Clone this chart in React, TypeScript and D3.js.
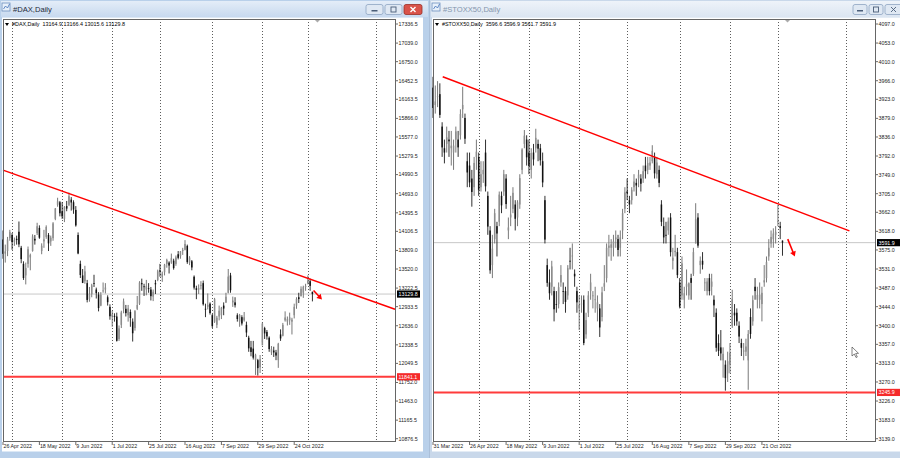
import { useEffect, useRef } from "react";
import * as d3 from "d3";

// ---- DAX daily (broker feed, no bar on 3 Oct)
const daxDates = [
  "2022-04-26","2022-04-27","2022-04-28","2022-04-29",
  "2022-05-02","2022-05-03","2022-05-04","2022-05-05","2022-05-06",
  "2022-05-09","2022-05-10","2022-05-11","2022-05-12","2022-05-13",
  "2022-05-16","2022-05-17","2022-05-18","2022-05-19","2022-05-20",
  "2022-05-23","2022-05-24","2022-05-25","2022-05-26","2022-05-27",
  "2022-05-30","2022-05-31","2022-06-01","2022-06-02","2022-06-03",
  "2022-06-06","2022-06-07","2022-06-08","2022-06-09","2022-06-10",
  "2022-06-13","2022-06-14","2022-06-15","2022-06-16","2022-06-17",
  "2022-06-20","2022-06-21","2022-06-22","2022-06-23","2022-06-24",
  "2022-06-27","2022-06-28","2022-06-29","2022-06-30","2022-07-01",
  "2022-07-04","2022-07-05","2022-07-06","2022-07-07","2022-07-08",
  "2022-07-11","2022-07-12","2022-07-13","2022-07-14","2022-07-15",
  "2022-07-18","2022-07-19","2022-07-20","2022-07-21","2022-07-22",
  "2022-07-25","2022-07-26","2022-07-27","2022-07-28","2022-07-29",
  "2022-08-01","2022-08-02","2022-08-03","2022-08-04","2022-08-05",
  "2022-08-08","2022-08-09","2022-08-10","2022-08-11","2022-08-12",
  "2022-08-15","2022-08-16","2022-08-17","2022-08-18","2022-08-19",
  "2022-08-22","2022-08-23","2022-08-24","2022-08-25","2022-08-26",
  "2022-08-29","2022-08-30","2022-08-31","2022-09-01","2022-09-02",
  "2022-09-05","2022-09-06","2022-09-07","2022-09-08","2022-09-09",
  "2022-09-12","2022-09-13","2022-09-14","2022-09-15","2022-09-16",
  "2022-09-19","2022-09-20","2022-09-21","2022-09-22","2022-09-23",
  "2022-09-26","2022-09-27","2022-09-28","2022-09-29","2022-09-30",
  "2022-10-04","2022-10-05","2022-10-06","2022-10-07",
  "2022-10-10","2022-10-11","2022-10-12","2022-10-13","2022-10-14",
  "2022-10-17","2022-10-18","2022-10-19","2022-10-20","2022-10-21",
  "2022-10-24","2022-10-25","2022-10-26","2022-10-27","2022-10-28",
  "2022-10-31","2022-11-01","2022-11-02","2022-11-03",
];
const daxOpen = [
  13980,13760,13800,14000, 14050,13940,13990,14100,13850, 13600,13420,13600,13700,13800,
  13990,14080,14160,13800,13950, 14020,14050,13950,14000,14300, 14520,14560,14420,14300,14500,
  14520,14600,14560,14440,14050, 13600,13420,13330,13300,13050, 13130,13300,13200,13120,12950,
  13180,13200,13080,12930,12780, 12790,12780,12430,12650,12900, 12900,12800,12850,12700,12600,
  12900,12980,13300,13250,13200, 13220,13200,13090,13300,13350, 13500,13400,13470,13600,13620,
  13620,13650,13600,13750,13720, 13800,13820,13880,13620,13640, 13400,13220,13200,13260,13300,
  12900,12930,12980,12800,12700, 12650,12780,12800,12950,13000, 13150,13420,13000,13000,12800,
  12700,12770,12720,12650,12450, 12300,12280,12100,12100,11990, 12330,12600,12540,12450,
  12220,12250,12220,12100,12500, 12480,12720,12700,12720,12700, 12800,12950,13080,13100,13150,
  13240,13300,13330,13164.9,
];
const daxHigh = [
  14120,13900,14020,14130, 14080,14010,14040,14260,13880, 13640,13620,13870,13760,14060,
  14050,14240,14200,13920,14130, 14200,14080,14040,14250,14470, 14630,14580,14560,14500,14580,
  14710,14640,14590,14500,14090, 13650,13520,13570,13350,13240, 13290,13430,13230,13160,13160,
  13310,13300,13110,12970,12870, 12830,12840,12640,12870,13060, 12960,12960,12890,12750,12880,
  13100,13330,13370,13290,13350, 13300,13240,13200,13350,13510, 13600,13480,13600,13680,13640,
  13760,13680,13730,13800,13800, 13850,13970,13900,13720,13660, 13420,13260,13280,13330,13340,
  12980,13140,13000,12820,13070, 12790,12950,12930,13000,13150, 13520,13460,13090,13080,12830,
  12820,12800,12850,12700,12480, 12400,12400,12200,12120,12180, 12690,12620,12570,12470,
  12320,12310,12260,12370,12580, 12680,12860,12780,12840,12760, 12980,13080,13150,13250,13260,
  13290,13420,13370,13166.4,
];
const daxLow = [
  13680,13620,13720,13960, 13820,13880,13900,13860,13610, 13350,13280,13540,13500,13790,
  13900,14050,13990,13750,13850, 13990,13800,13880,13960,14280, 14490,14340,14300,14250,14420,
  14500,14430,14380,14180,13750, 13380,13300,13290,13000,13010, 13080,13240,13060,12860,12940,
  13150,13140,12950,12730,12620, 12700,12390,12400,12600,12830, 12780,12700,12620,12390,12560,
  12880,12960,13180,13100,13110, 13150,13030,13020,13130,13330, 13400,13320,13420,13540,13450,
  13600,13510,13570,13670,13680, 13740,13810,13600,13580,13500, 13200,13050,13130,13200,12950,
  12770,12890,12810,12600,12680, 12600,12720,12740,12800,12990, 13140,13150,12930,12920,12700,
  12620,12640,12700,12460,12230, 12160,12110,11870,11860,11900, 12380,12430,12420,12230,
  12180,12150,12100,11980,12400, 12470,12700,12640,12650,12500, 12750,12900,12990,13090,13070,
  13180,13280,13180,13015.6,
];
const daxClose = [
  13756,13793,13979,14098, 13939,13970,13971,13903,13674, 13380,13535,13828,13739,14027,
  13964,14186,14008,13882,13982, 14175,13919,14008,14231,14462, 14575,14388,14340,14485,14461,
  14654,14556,14446,14199,13762, 13427,13304,13483,13038,13127, 13266,13292,13145,12912,13118,
  13186,13231,13003,12784,12813, 12773,12401,12595,12843,13015, 12833,12905,12756,12519,12864,
  12959,13308,13282,13246,13254, 13210,13097,13166,13282,13484, 13479,13449,13587,13662,13574,
  13688,13535,13700,13694,13795, 13817,13910,13627,13697,13544, 13230,13194,13220,13271,12971,
  12893,12961,12834,12630,13050, 12761,12871,12916,12904,13088, 13402,13189,13028,12956,12741,
  12803,12671,12767,12531,12284, 12228,12139,12183,11976,12114, 12670,12517,12471,12273,
  12272,12220,12172,12355,12438, 12650,12765,12742,12767,12731, 12931,13053,13052,13211,13243,
  13253,13339,13257,13129.8,
];
const daxPriceLabels = [
  "17336.5","17039.0","16750.0","16452.5","16163.5","15866.0","15577.0","15279.5",
  "14990.5","14693.0","14395.5","14106.5","13809.0","13520.0","13222.5","12933.5",
  "12636.0","12338.5","12049.5","11752.0","11463.0","11165.5","10876.5",
];
const daxDateLabels = [
  "26 Apr 2022","18 May 2022","9 Jun 2022","1 Jul 2022","25 Jul 2022",
  "16 Aug 2022","7 Sep 2022","29 Sep 2022","24 Oct 2022",
];
const daxTrend = [[0, 15060], [172.3, 12893]]; // [bar index, price]
const daxSupport = 11841.1;
const daxBid = 13129.8;
const daxHeader = "#DAX,Daily  13164.9 13166.4 13015.6 13129.8";

// ---- Euro Stoxx 50 daily
const sxDates = [
  "2022-03-31","2022-04-01",
  "2022-04-04","2022-04-05","2022-04-06","2022-04-07","2022-04-08",
  "2022-04-11","2022-04-12","2022-04-13","2022-04-14",
  "2022-04-19","2022-04-20","2022-04-21","2022-04-22",
  "2022-04-25","2022-04-26","2022-04-27","2022-04-28","2022-04-29",
  "2022-05-02","2022-05-03","2022-05-04","2022-05-05","2022-05-06",
  "2022-05-09","2022-05-10","2022-05-11","2022-05-12","2022-05-13",
  "2022-05-16","2022-05-17","2022-05-18","2022-05-19","2022-05-20",
  "2022-05-23","2022-05-24","2022-05-25","2022-05-26","2022-05-27",
  "2022-05-30","2022-05-31","2022-06-01","2022-06-02","2022-06-03",
  "2022-06-06","2022-06-07","2022-06-08","2022-06-09","2022-06-10",
  "2022-06-13","2022-06-14","2022-06-15","2022-06-16","2022-06-17",
  "2022-06-20","2022-06-21","2022-06-22","2022-06-23","2022-06-24",
  "2022-06-27","2022-06-28","2022-06-29","2022-06-30","2022-07-01",
  "2022-07-04","2022-07-05","2022-07-06","2022-07-07","2022-07-08",
  "2022-07-11","2022-07-12","2022-07-13","2022-07-14","2022-07-15",
  "2022-07-18","2022-07-19","2022-07-20","2022-07-21","2022-07-22",
  "2022-07-25","2022-07-26","2022-07-27","2022-07-28","2022-07-29",
  "2022-08-01","2022-08-02","2022-08-03","2022-08-04","2022-08-05",
  "2022-08-08","2022-08-09","2022-08-10","2022-08-11","2022-08-12",
  "2022-08-15","2022-08-16","2022-08-17","2022-08-18","2022-08-19",
  "2022-08-22","2022-08-23","2022-08-24","2022-08-25","2022-08-26",
  "2022-08-29","2022-08-30","2022-08-31","2022-09-01","2022-09-02",
  "2022-09-05","2022-09-06","2022-09-07","2022-09-08","2022-09-09",
  "2022-09-12","2022-09-13","2022-09-14","2022-09-15","2022-09-16",
  "2022-09-19","2022-09-20","2022-09-21","2022-09-22","2022-09-23",
  "2022-09-26","2022-09-27","2022-09-28","2022-09-29","2022-09-30",
  "2022-10-03","2022-10-04","2022-10-05","2022-10-06","2022-10-07",
  "2022-10-10","2022-10-11","2022-10-12","2022-10-13","2022-10-14",
  "2022-10-17","2022-10-18","2022-10-19","2022-10-20","2022-10-21",
  "2022-10-24","2022-10-25","2022-10-26","2022-10-27","2022-10-28",
  "2022-10-31","2022-11-01","2022-11-02","2022-11-03",
];
const sxOpen = [
  3950,3910, 3930,3935,3860,3810,3820, 3830,3810,3800,3830, 3830,3840,3900,3880,
  3780,3770,3740,3720,3790, 3790,3720,3750,3800,3700, 3620,3540,3600,3630,3640,
  3700,3710,3740,3620,3650, 3670,3680,3650,3680,3760, 3820,3830,3800,3760,3800,
  3810,3820,3810,3780,3690, 3540,3500,3490,3480,3450, 3450,3500,3480,3480,3470,
  3550,3560,3520,3480,3440, 3450,3460,3380,3430,3480, 3470,3460,3440,3440,3420,
  3490,3510,3580,3580,3580, 3600,3600,3580,3620,3670, 3710,3690,3690,3720,3730,
  3740,3740,3740,3770,3760, 3770,3780,3790,3750,3760, 3680,3630,3610,3620,3650,
  3550,3570,3570,3500,3470, 3460,3490,3470,3510,3520, 3590,3650,3540,3550,3500,
  3480,3510,3490,3460,3430, 3360,3350,3320,3310,3290, 3310,3400,3430,3430,3400,
  3360,3340,3340,3320,3420, 3410,3490,3460,3460,3450, 3500,3510,3560,3590,3600,
  3610,3640,3630,3596.6,
];
const sxHigh = [
  3975,3955, 3965,3960,3870,3830,3860, 3850,3850,3830,3860, 3850,3900,3952,3890,
  3800,3800,3760,3790,3830, 3800,3780,3780,3830,3710, 3630,3610,3670,3640,3710,
  3710,3760,3750,3650,3700, 3720,3690,3690,3750,3810, 3852,3840,3830,3810,3820,
  3855,3830,3820,3800,3700, 3555,3530,3550,3490,3480, 3500,3540,3500,3490,3540,
  3580,3590,3530,3490,3470, 3470,3470,3430,3480,3520, 3480,3490,3470,3450,3490,
  3540,3590,3610,3600,3610, 3620,3610,3620,3670,3720, 3740,3700,3720,3750,3740,
  3760,3750,3770,3790,3790, 3790,3817,3800,3790,3770, 3690,3650,3640,3650,3660,
  3580,3610,3580,3510,3560, 3490,3530,3500,3520,3580, 3683,3660,3560,3570,3510,
  3510,3520,3520,3470,3440, 3380,3390,3350,3320,3340, 3360,3483,3450,3440,3410,
  3370,3360,3370,3390,3440, 3470,3510,3490,3500,3490, 3540,3560,3600,3620,3625,
  3630,3679,3640,3596.9,
];
const sxLow = [
  3880,3890, 3905,3880,3790,3775,3800, 3790,3770,3760,3800, 3790,3830,3880,3820,
  3720,3720,3675,3700,3760, 3700,3710,3730,3710,3610, 3520,3510,3590,3560,3630,
  3660,3700,3670,3600,3630, 3660,3620,3630,3670,3750, 3810,3770,3750,3740,3770,
  3800,3780,3770,3720,3590, 3490,3460,3470,3410,3430, 3440,3490,3450,3430,3460,
  3530,3530,3490,3430,3390, 3430,3355,3370,3420,3460, 3440,3430,3410,3374,3410,
  3480,3500,3560,3550,3560, 3580,3560,3560,3600,3660, 3690,3660,3680,3710,3700,
  3720,3710,3730,3740,3750, 3760,3775,3740,3740,3720, 3630,3590,3590,3610,3560,
  3530,3560,3510,3440,3460, 3440,3470,3460,3460,3515, 3590,3580,3520,3530,3480,
  3470,3470,3470,3420,3340, 3330,3320,3280,3250,3270, 3290,3395,3400,3400,3360,
  3330,3320,3330,3252,3370, 3400,3460,3440,3440,3410, 3490,3500,3550,3580,3580,
  3590,3630,3600,3561.7,
];
const sxClose = [
  3903,3918, 3930,3887,3812,3800,3835, 3826,3816,3816,3849, 3812,3889,3910,3832,
  3754,3731,3709,3776,3802, 3714,3750,3760,3722,3629, 3528,3578,3660,3613,3703,
  3678,3750,3681,3627,3657, 3707,3647,3685,3741,3807, 3839,3789,3769,3799,3784,
  3834,3809,3782,3731,3599, 3499,3475,3537,3438,3449, 3489,3517,3479,3455,3533,
  3549,3562,3514,3454,3448, 3451,3360,3413,3470,3500, 3470,3461,3454,3396,3477,
  3498,3580,3585,3588,3595, 3604,3575,3604,3660,3708, 3706,3680,3714,3733,3724,
  3749,3728,3757,3757,3776, 3777,3804,3752,3777,3730, 3640,3604,3608,3641,3570,
  3557,3573,3517,3444,3544, 3475,3497,3498,3499,3570, 3646,3585,3550,3541,3500,
  3502,3480,3502,3447,3349, 3342,3336,3335,3279,3318, 3337,3462,3424,3410,3375,
  3349,3343,3352,3381,3381, 3459,3480,3471,3472,3476, 3505,3547,3580,3605,3613,
  3617,3642,3626,3591.9,
];
const sxPriceLabels = [
  "4097.0","4053.0","4010.0","3966.0","3923.0","3879.0","3836.0","3792.0",
  "3749.0","3705.0","3662.0","3618.0","3575.0","3531.0","3487.0","3444.0",
  "3400.0","3357.0","3313.0","3270.0","3226.0","3183.0","3139.0",
];
const sxDateLabels = [
  "31 Mar 2022","26 Apr 2022","18 May 2022","9 Jun 2022","1 Jul 2022",
  "25 Jul 2022","16 Aug 2022","7 Sep 2022","29 Sep 2022","21 Oct 2022",
];
const sxTrend = [[4.25, 3975], [182.3, 3619]];
const sxSupport = 3245.9;
const sxBid = 3591.9;
const sxHeader = "#STOXX50,Daily  3596.6 3596.9 3561.7 3591.9";

const gridMonths = ["2022-05","2022-06","2022-07","2022-08","2022-09","2022-10","2022-11","2022-12"];

const FONT = "'Liberation Sans', Arial, sans-serif";
const parseIso = d3.timeParse("%Y-%m-%d");
const parseLabel = d3.timeParse("%d %b %Y");
const isoFmt = d3.timeFormat("%Y-%m-%d");

type Chart = {
  title: string; active: boolean; header: string;
  winX: number; winW: number;
  left: number; right: number; top: number; bottom: number;
  barsAcross: number;
  dates: string[]; open: number[]; high: number[]; low: number[]; close: number[];
  priceLabels: string[]; dateLabels: string[];
  trend: number[][]; support: number; bid: number;
  arrow: number[][];
};

function drawChart(svg: any, c: Chart) {
  const g = svg.append("g");
  const n = c.dates.length;
  const x = d3.scaleLinear().domain([0, c.barsAcross]).range([c.left, c.right]);
  const lo = +c.priceLabels[c.priceLabels.length - 1];
  const hi = +c.priceLabels[0];
  const y = d3.scaleLinear().domain([lo, hi]).range([c.bottom - 2.3, c.top + 5]);

  // window frame + title bar
  g.append("rect").attr("x", c.winX).attr("y", 0).attr("width", c.winW).attr("height", 458)
    .attr("fill", c.active ? "#b9d0ea" : "#c9d8ea");
  g.append("rect").attr("x", c.winX + 1).attr("y", 1).attr("width", c.winW - 2).attr("height", 16)
    .attr("fill", c.active ? "url(#titleA)" : "url(#titleI)");
  g.append("rect").attr("x", c.winX + 2).attr("y", 3).attr("width", 8).attr("height", 8)
    .attr("fill", "#e8f0fa").attr("stroke", "#6d8fbf").attr("stroke-width", 0.8);
  g.append("path").attr("d", `M${c.winX + 3.5},${9} l2,-3 l2,2 l2,-4`).attr("fill", "none")
    .attr("stroke", "#3f70b8").attr("stroke-width", 0.8);
  g.append("text").attr("x", c.winX + 13).attr("y", 12).attr("font-family", FONT).attr("font-size", 7.6)
    .attr("fill", c.active ? "#1e2a3a" : "#8496ad").text(c.title);

  // caption buttons
  const bx = c.winX + c.winW - (c.active ? 63 : 53);
  const bw = c.active ? [17, 17, 18] : [14, 14, 17];
  let cx = bx;
  bw.forEach((w, i) => {
    const red = c.active && i === 2;
    g.append("rect").attr("x", cx).attr("y", 4.5).attr("width", w).attr("height", 10).attr("rx", 2)
      .attr("fill", red ? "#d9534a" : "#dfe8f3").attr("stroke", red ? "#9b2e25" : "#8ea5c2").attr("stroke-width", 0.8);
    const mx = cx + w / 2;
    if (i === 0) g.append("rect").attr("x", mx - 3).attr("y", 10).attr("width", 6).attr("height", 1.5).attr("fill", red ? "#fff" : "#4a5d78");
    if (i === 1) g.append("rect").attr("x", mx - 2.5).attr("y", 7).attr("width", 5).attr("height", 5).attr("fill", "none").attr("stroke", "#4a5d78").attr("stroke-width", 0.9);
    if (i === 2) g.append("path").attr("d", `M${mx - 2.5},7 L${mx + 2.5},12 M${mx + 2.5},7 L${mx - 2.5},12`)
      .attr("stroke", red ? "#fff" : "#4a5d78").attr("stroke-width", red ? 1.4 : 0.9);
    cx += w + 2;
  });

  // client area
  const clientR = Math.min(c.winX + c.winW - 6, 900);
  g.append("rect").attr("x", c.winX + 2).attr("y", 17.5).attr("width", clientR - c.winX - 2).attr("height", 434)
    .attr("fill", "#fff");

  // month grid (future months extrapolated by calendar day)
  const lastDate = parseIso(c.dates[n - 1]) as Date;
  const gridIdx = gridMonths.map((m) => {
    const i = c.dates.findIndex((d) => d.startsWith(m));
    if (i > 0) return i;
    const first = parseIso(m + "-01") as Date;
    return n - 1 + d3.timeDay.count(lastDate, first);
  });
  g.selectAll(".vgrid").data(gridIdx).enter().append("line")
    .attr("x1", (i: number) => Math.round(x(i)) + 0.5).attr("x2", (i: number) => Math.round(x(i)) + 0.5)
    .attr("y1", c.top).attr("y2", c.bottom)
    .attr("stroke", "#333").attr("stroke-width", 0.8).attr("stroke-dasharray", "1,2");

  // bid line
  g.append("line").attr("x1", c.left).attr("x2", c.right).attr("y1", y(c.bid)).attr("y2", y(c.bid))
    .attr("stroke", "#c8c8c8").attr("stroke-width", 1);

  // candles
  const idx = d3.range(n);
  const bodyW = 1.5;
  g.selectAll(".wick").data(idx).enter().append("line")
    .attr("x1", (i: number) => x(i)).attr("x2", (i: number) => x(i))
    .attr("y1", (i: number) => y(c.high[i])).attr("y2", (i: number) => y(c.low[i]))
    .attr("stroke", (i: number) => (c.close[i] >= c.open[i] ? "#6a6a6a" : "#1a1a1a")).attr("stroke-width", 0.9);
  g.selectAll(".body").data(idx).enter().append("rect")
    .attr("x", (i: number) => x(i) - bodyW / 2).attr("width", bodyW)
    .attr("y", (i: number) => y(Math.max(c.open[i], c.close[i])))
    .attr("height", (i: number) => Math.max(0.8, Math.abs(y(c.open[i]) - y(c.close[i]))))
    .attr("fill", (i: number) => (c.close[i] >= c.open[i] ? "#8c8c8c" : "#111"));

  // trend line and support
  g.append("line").attr("x1", x(c.trend[0][0])).attr("y1", y(c.trend[0][1]))
    .attr("x2", x(c.trend[1][0])).attr("y2", y(c.trend[1][1]))
    .attr("stroke", "#f00").attr("stroke-width", 1.5);
  g.append("line").attr("x1", c.left).attr("x2", c.right).attr("y1", y(c.support)).attr("y2", y(c.support))
    .attr("stroke", "#ff3b3b").attr("stroke-width", 2);

  // red arrow
  const [a0, a1] = c.arrow;
  const ax0 = x(a0[0]), ay0 = y(a0[1]), ax1 = x(a1[0]), ay1 = y(a1[1]);
  const ang = Math.atan2(ay1 - ay0, ax1 - ax0);
  g.append("line").attr("x1", ax0).attr("y1", ay0).attr("x2", ax1 - 3 * Math.cos(ang)).attr("y2", ay1 - 3 * Math.sin(ang))
    .attr("stroke", "#f00").attr("stroke-width", 1.6);
  const hp = [
    [ax1, ay1],
    [ax1 - 5 * Math.cos(ang) + 3 * Math.sin(ang), ay1 - 5 * Math.sin(ang) - 3 * Math.cos(ang)],
    [ax1 - 5 * Math.cos(ang) - 3 * Math.sin(ang), ay1 - 5 * Math.sin(ang) + 3 * Math.cos(ang)],
  ];
  g.append("path").attr("d", "M" + hp.map((p) => p.join(",")).join("L") + "Z").attr("fill", "#f00");

  // frame
  g.append("rect").attr("x", c.left + 0.5).attr("y", c.top + 0.5).attr("width", c.right - c.left).attr("height", c.bottom - c.top)
    .attr("fill", "none").attr("stroke", "#666").attr("stroke-width", 1);

  // shift marker
  const sx = x(n + 1.2);
  g.append("path").attr("d", `M${sx - 2.5},${c.top + 1} L${sx + 2.5},${c.top + 1} L${sx},${c.top + 3.5}Z`).attr("fill", "#aaa");

  // header
  g.append("path").attr("d", `M${c.left + 2},${c.top + 4} L${c.left + 6},${c.top + 4} L${c.left + 4},${c.top + 7}Z`).attr("fill", "#000");
  g.append("text").attr("x", c.left + 9).attr("y", c.top + 7.3).attr("font-family", FONT).attr("font-size", 5.4)
    .attr("fill", "#000").attr("xml:space", "preserve").style("white-space", "pre").text(c.header);

  // price axis
  const pl = g.selectAll(".pl").data(c.priceLabels).enter().append("g")
    .attr("transform", (d: string) => `translate(0,${y(+d)})`);
  pl.append("line").attr("x1", c.right + 1).attr("x2", c.right + 3).attr("stroke", "#444").attr("stroke-width", 0.8);
  pl.append("text").attr("x", c.right + 3.5).attr("dy", "0.35em").attr("font-family", FONT).attr("font-size", 5.3)
    .attr("fill", "#222").text((d: string) => d);

  const tag = (v: number, fill: string) => {
    g.append("rect").attr("x", c.right + 2).attr("y", y(v) - 3.6).attr("width", 23).attr("height", 7.2).attr("fill", fill);
    g.append("text").attr("x", c.right + 3.5).attr("y", y(v)).attr("dy", "0.35em").attr("font-family", FONT)
      .attr("font-size", 5.3).attr("fill", "#fff").text(v.toFixed(1));
  };
  tag(c.bid, "#000");
  tag(c.support, "#f52a2a");

  // date axis
  const dl = g.selectAll(".dl").data(c.dateLabels).enter().append("g")
    .attr("transform", (d: string) => {
      const i = c.dates.indexOf(isoFmt(parseLabel(d) as Date));
      return `translate(${x(i)},0)`;
    });
  dl.append("line").attr("y1", c.bottom + 1).attr("y2", c.bottom + 4).attr("stroke", "#444").attr("stroke-width", 0.8);
  dl.append("text").attr("x", 0.5).attr("y", c.bottom + 7).attr("font-family", FONT).attr("font-size", 5.3)
    .attr("fill", "#222").text((d: string) => d);
}

export default function App() {
  const ref = useRef<SVGSVGElement>(null);
  useEffect(() => {
    const svg = d3.select(ref.current);
    svg.selectAll("*").remove();
    svg.append("rect").attr("width", 900).attr("height", 458).attr("fill", "#aabfd9");
    const defs = svg.append("defs");
    const ga = defs.append("linearGradient").attr("id", "titleA").attr("x1", 0).attr("y1", 0).attr("x2", 0).attr("y2", 1);
    ga.append("stop").attr("offset", 0).attr("stop-color", "#e4edf8");
    ga.append("stop").attr("offset", 1).attr("stop-color", "#c7d9ef");
    const gi = defs.append("linearGradient").attr("id", "titleI").attr("x1", 0).attr("y1", 0).attr("x2", 0).attr("y2", 1);
    gi.append("stop").attr("offset", 0).attr("stop-color", "#eef3f9");
    gi.append("stop").attr("offset", 1).attr("stop-color", "#dbe5f1");

    drawChart(svg, {
      title: "#DAX,Daily", active: true, header: daxHeader,
      winX: 0, winW: 429, left: 3, right: 395, top: 19, bottom: 441, barsAcross: 172.3,
      dates: daxDates, open: daxOpen, high: daxHigh, low: daxLow, close: daxClose,
      priceLabels: daxPriceLabels, dateLabels: daxDateLabels,
      trend: daxTrend, support: daxSupport, bid: daxBid,
      arrow: [[136.5, 13185], [140.2, 13045]],
    });
    drawChart(svg, {
      title: "#STOXX50,Daily", active: false, header: sxHeader,
      winX: 430, winW: 476, left: 433, right: 875, top: 19, bottom: 441, barsAcross: 193.5,
      dates: sxDates, open: sxOpen, high: sxHigh, low: sxLow, close: sxClose,
      priceLabels: sxPriceLabels, dateLabels: sxDateLabels,
      trend: sxTrend, support: sxSupport, bid: sxBid,
      arrow: [[155.3, 3600], [158.4, 3560]],
    });

    // mouse pointer left on the chart
    svg.append("path").attr("d", "M852,347 L852,356 L854.3,354 L856,357.5 L857.3,357 L855.7,353.5 L858.5,353.3 Z")
      .attr("fill", "#fff").attr("stroke", "#333").attr("stroke-width", 0.6);
  }, []);
  return (
    <svg ref={ref} width={900} height={458}
      style={{ position: "fixed", left: 0, top: 0, display: "block" }} />
  );
}
